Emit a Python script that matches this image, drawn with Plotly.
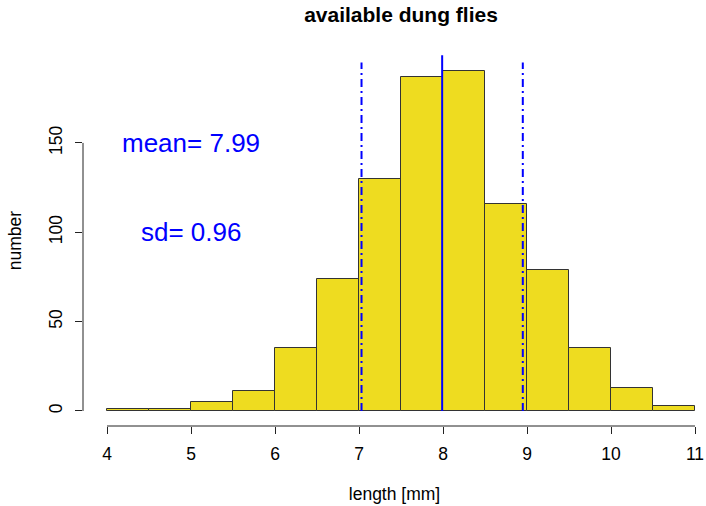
import plotly.graph_objects as go

# data
breaks = [4.0, 4.5, 5.0, 5.5, 6.0, 6.5, 7.0, 7.5, 8.0, 8.5, 9.0, 9.5, 10.0, 10.5, 11.0]
counts = [1, 1, 5, 11, 35, 74, 130, 187, 190, 116, 79, 35, 13, 3]
mean_len = 7.99
sd_len = 0.96
x_ticks = [4, 5, 6, 7, 8, 9, 10, 11]
y_ticks = [0, 50, 100, 150]

centers = [(a + b) / 2 for a, b in zip(breaks[:-1], breaks[1:])]
widths = [b - a for a, b in zip(breaks[:-1], breaks[1:])]

FONT = "Liberation Sans, Arial, Helvetica, sans-serif"
AX = "#222222"
BASE = 17.5

fig = go.Figure()
fig.add_trace(go.Bar(
    x=centers, y=counts, width=widths,
    marker=dict(color="#EEDC20", line=dict(color="#333333", width=1)),
    hoverinfo="x+y", showlegend=False,
))

shapes = []
# R-style axis lines spanning the tick range only
shapes.append(dict(type="line", xref="x", yref="paper", x0=min(x_ticks), x1=max(x_ticks), y0=0, y1=0,
                   line=dict(color=AX, width=1)))
shapes.append(dict(type="line", xref="paper", yref="y", x0=0, x1=0, y0=min(y_ticks), y1=max(y_ticks),
                   line=dict(color=AX, width=1)))
# mean and mean +/- sd
shapes.append(dict(type="line", xref="x", yref="y", x0=mean_len, x1=mean_len, y0=0, y1=199,
                   line=dict(color="blue", width=2)))
for v in (mean_len - sd_len, mean_len + sd_len):
    shapes.append(dict(type="line", xref="x", yref="y", x0=v, x1=v, y0=0, y1=195,
                       line=dict(color="blue", width=2, dash="8px,4px,2px,4px")))

annotations = [
    dict(x=5, y=150, xref="x", yref="y", text=f"mean= {mean_len:.2f}", showarrow=False,
         font=dict(family=FONT, size=26, color="blue")),
    dict(x=5, y=100, xref="x", yref="y", text=f"sd= {sd_len:.2f}", showarrow=False,
         font=dict(family=FONT, size=26, color="blue")),
]

fig.update_layout(
    width=706, height=506,
    margin=dict(l=83, r=0, t=55, b=80),
    plot_bgcolor="white", paper_bgcolor="white",
    font=dict(family=FONT, size=BASE, color="black"),
    title=dict(text="<b>available dung flies</b>", x=401 / 706, xanchor="center", y=1 - 15 / 506,
               yanchor="middle", font=dict(family=FONT, size=21, color="black"), automargin=False),
    bargap=0,
    shapes=shapes,
    annotations=annotations,
    xaxis=dict(range=[4 - 24 / 84, 4 + 599 / 84], tickvals=x_ticks, ticks="outside", ticklen=7,
               tickcolor=AX, showgrid=False, zeroline=False, showline=False, automargin=False,
               title=dict(text="length [mm]", font=dict(size=BASE), standoff=24),
               tickfont=dict(size=BASE), ticklabelstandoff=5),
    yaxis=dict(range=[-8.4, 199.2], tickvals=y_ticks, ticks="outside", ticklen=7, tickangle=-90,
               tickcolor=AX, showgrid=False, zeroline=False, showline=False, automargin=False,
               title=dict(text="number", font=dict(size=BASE), standoff=19),
               tickfont=dict(size=BASE), ticklabelstandoff=6),
)

fig.write_html("out.html", config={"displayModeBar": False},
               post_script="document.body.style.margin='0';document.body.style.overflow='hidden';")
